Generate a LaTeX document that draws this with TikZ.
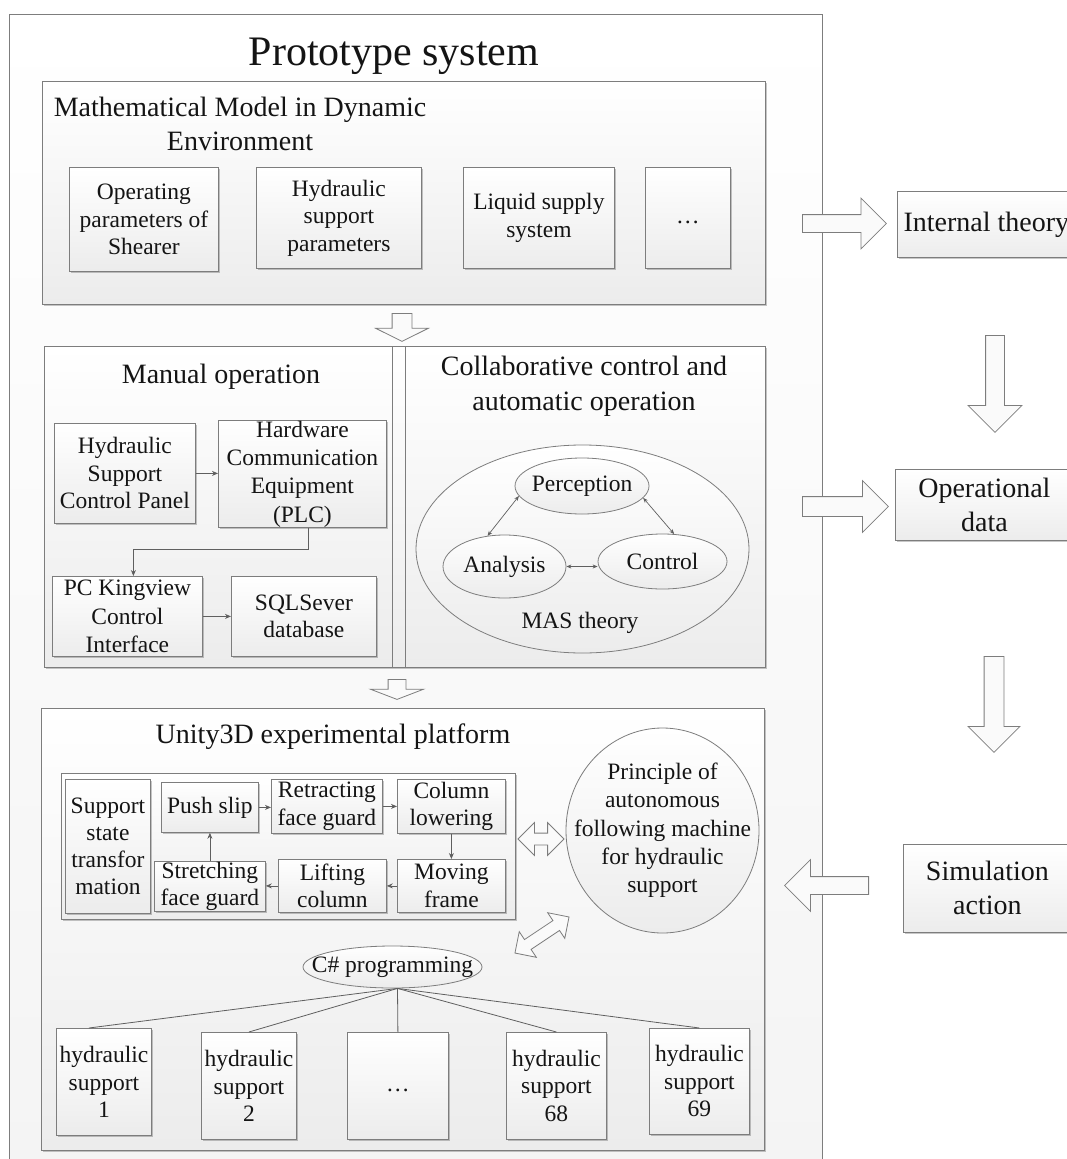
\documentclass[tikz,border=0pt]{standalone}
\usepackage{fontspec}
\setmainfont{Liberation Serif}
\usetikzlibrary{shapes.geometric,shapes.arrows,shadows,arrows.meta,calc}

\definecolor{boxedge}{RGB}{125,125,125}
\definecolor{panelbot}{RGB}{236,236,236}
\definecolor{outerbot}{RGB}{244,244,244}
\definecolor{arrowfill}{RGB}{250,250,250}
\definecolor{lnk}{RGB}{95,95,95}
\definecolor{ink}{RGB}{20,20,20}

\newcommand\titlesize{\fontsize{42}{48}\selectfont}
\newcommand\headsize{\fontsize{28}{34}\selectfont}
\newcommand\headsizeb{\fontsize{28}{35}\selectfont}
\newcommand\bodysize{\fontsize{23.5}{27.5}\selectfont}
\newcommand\bodysizeb{\fontsize{23.5}{28.3}\selectfont}

\tikzset{
  softshadow/.style={drop shadow={shadow xshift=1.6pt,shadow yshift=-1.6pt,fill=black,opacity=0.22}},
  panel/.style={draw=boxedge, line width=0.8pt, top color=white, bottom color=panelbot,
    softshadow, inner sep=0pt, anchor=north west},
  stepbox/.style={panel, align=center, font=\bodysize, text=ink},
  oval/.style={ellipse, draw=boxedge, line width=0.8pt, top color=white, bottom color=panelbot,
    inner sep=0pt},
  ovaltext/.style={label={[align=center, font=\bodysize, text=ink]center:#1}},
  heading/.style={font=\headsize, text=ink, align=center, inner sep=0pt},
  conn/.style={draw=lnk, line width=0.8pt, -{Stealth[length=6pt,width=5pt]}},
  biconn/.style={draw=lnk, line width=0.7pt,
    {Stealth[length=5pt,width=4pt]}-{Stealth[length=5pt,width=4pt]}},
  fan/.style={draw=lnk, line width=0.8pt},
  blockarrow/.style n args={4}{single arrow, draw=boxedge, line width=0.8pt, fill=arrowfill,
    inner sep=0pt, minimum width=0pt, minimum height=#1, text height=#2, text depth=0pt,
    single arrow head extend=#3, single arrow tip angle=#4, anchor=tail},
  dblarrow/.style n args={3}{double arrow, draw=boxedge, line width=0.8pt, fill=arrowfill,
    inner sep=0pt, minimum width=0pt, minimum height=#1, text height=#2, text depth=0pt,
    double arrow head extend=#3},
}

\begin{document}
\begin{tikzpicture}[x=1pt,y=-1pt]
\useasboundingbox (0,0) rectangle (1067,1159);

% outer frame of the prototype system
\node[draw=boxedge, line width=0.8pt, top color=white, bottom color=outerbot,
  inner sep=0pt, anchor=north west, minimum width=813, minimum height=1160] (proto) at (9,14) {};
\node[font=\titlesize, text=ink, anchor=base, inner sep=0pt] (protoTitle) at (394,65) {Prototype system};

% ---- mathematical model ----
\node[panel, minimum width=723, minimum height=223] (math) at (42,81) {};
\node[heading] (mathTitle) at (240,124.3) {Mathematical Model in Dynamic\\Environment};
\node[stepbox, minimum width=149, minimum height=104] (op) at (69,167) {Operating\\parameters of\\Shearer};
\node[stepbox, minimum width=165, minimum height=101] (hsp) at (256,167) {Hydraulic\\support\\parameters};
\node[stepbox, minimum width=151, minimum height=101] (liq) at (463,167) {Liquid supply\\system};
\node[stepbox, minimum width=85, minimum height=101] (more1) at (645,167) {\strut…};

% ---- manual operation ----
\node[panel, minimum width=348, minimum height=321] (manual) at (44,346) {};
\node[panel, minimum width=13, minimum height=321] (bar) at (392,346) {};
\node[panel, minimum width=360, minimum height=321] (collab) at (405,346) {};
\node[heading, anchor=base] (manualTitle) at (221,383) {Manual operation};
\node[stepbox, minimum width=141, minimum height=100] (hscp) at (54,423) {Hydraulic\\Support\\Control Panel};
\node[stepbox, font=\bodysizeb, minimum width=168, minimum height=107] (hw) at (218,420) {Hardware\\Communication\\Equipment\\(PLC)};
\node[stepbox, font=\bodysizeb, minimum width=150, minimum height=80] (pc) at (52,576) {PC Kingview\\Control\\Interface};
\node[stepbox, minimum width=145, minimum height=80] (sql) at (231,576) {SQLSever\\database};
\draw[conn] (hscp.east) -- (hw.west |- hscp.east);
\draw[conn] ([xshift=6pt]hw.south) -- ++(0,22) -| ([xshift=6pt]pc.north);
\draw[conn] (pc.east) -- (sql.west);

% ---- collaborative control ----
\node[heading, font=\headsizeb] (collabTitle) at (584,386) {Collaborative control and\\automatic operation};
\node[oval, minimum width=333, minimum height=208] (mas) at (582.5,549) {};
\node[oval, minimum width=134, minimum height=56, ovaltext={Perception}] (perc) at (582,486) {};
\node[oval, minimum width=123, minimum height=63, ovaltext={Analysis}] (ana) at (504.5,566.5) {};
\node[oval, minimum width=129, minimum height=55, ovaltext={Control}] (ctl) at (662.5,561.5) {};
\node[font=\bodysize, text=ink, anchor=base, inner sep=0pt] (masLabel) at (580,628) {MAS theory};
\draw[biconn] (perc.189) -- (ana.119);
\draw[biconn] (perc.349) -- (ctl.67);
\draw[biconn] (ana.east) -- (ana.east -| ctl.west);

% ---- Unity3D platform ----
\node[panel, minimum width=723, minimum height=442] (unity) at (41,708) {};
\node[heading, anchor=base] (unityTitle) at (333,743) {Unity3D experimental platform};
\node[panel, minimum width=454, minimum height=146] (cycle) at (61,773) {};
\node[stepbox, font=\fontsize{23.5}{27}\selectfont, minimum width=85, minimum height=134] (sst) at (65,779) {Support\\state\\transfor\\mation};
\node[stepbox, minimum width=97, minimum height=50] (push) at (161,782) {Push slip};
\node[stepbox, minimum width=111, minimum height=54] (retr) at (271,779) {Retracting\\face guard};
\node[stepbox, minimum width=108, minimum height=54] (coll) at (397,779) {Column\\lowering};
\node[stepbox, minimum width=108, minimum height=53] (movf) at (397,859) {Moving\\frame};
\node[stepbox, minimum width=108, minimum height=53] (lift) at (278,859) {Lifting\\column};
\node[stepbox, minimum width=111, minimum height=50] (stre) at (154,861) {Stretching\\face guard};
\draw[conn] (push.east) -- (retr.west |- push.east);
\draw[conn] (retr.east) -- (coll.west);
\draw[conn] (coll.south) -- (movf.north);
\draw[conn] (movf.west) -- (lift.east);
\draw[conn] (lift.west) -- (stre.east |- lift.west);
\draw[conn] (stre.north) -- (push.south);

\node[oval, minimum width=193, minimum height=205,
  label={[align=center, font=\bodysizeb, text=ink]center:Principle of\\autonomous\\following machine\\for hydraulic\\support}] (principle) at (662.5,830.5) {};
\node[dblarrow={46}{11}{10.5}] (linkH) at (541,839) {};
\node[dblarrow={65}{11}{9.5}, rotate=33.7] (linkD) at (542,935) {};

\node[oval, minimum width=179, minimum height=42, ovaltext={C\# programming}] (cs) at (392.5,967) {};
\node[stepbox, minimum width=95, minimum height=107] (hs1) at (56,1028) {hydraulic\\support\\1};
\node[stepbox, minimum width=95, minimum height=107] (hs2) at (201,1032) {hydraulic\\support\\2};
\node[stepbox, minimum width=101, minimum height=107] (hsd) at (347,1032) {\strut…};
\node[stepbox, minimum width=100, minimum height=107] (hs68) at (506,1032) {hydraulic\\support\\68};
\node[stepbox, minimum width=100, minimum height=106] (hs69) at (649,1028) {hydraulic\\support\\69};
\coordinate (fork) at ([xshift=5pt]cs.south);
\draw[fan] (fork) -- ([xshift=-15pt]hs1.north);
\draw[fan] (fork) -- (hs2.north);
\draw[fan] (fork) -- (hsd.north);
\draw[fan] (fork) -- (hs68.north);
\draw[fan] (fork) -- (hs69.north);

% ---- flow between stages ----
\node[blockarrow={28}{19}{16.5}{127}, rotate=-90] (stepA) at (402,313) {};
\node[blockarrow={20}{17}{17.5}{138}, rotate=-90] (stepB) at (397,679) {};

% ---- outcome column ----
\node[panel, font=\headsize, text=ink, minimum width=178, minimum height=66] (theory) at (897,191) {Internal theory};
\node[panel, font=\headsize, text=ink, align=center, minimum width=178, minimum height=71] (data) at (895,469) {Operational\\data};
\node[panel, font=\headsize, text=ink, align=center, minimum width=168, minimum height=88] (sim) at (903,844) {Simulation\\action};
\node[blockarrow={84}{17}{16.5}{90}] (toTheory) at (802,223.5) {};
\node[blockarrow={86}{19}{16}{90}] (toData) at (802,506.5) {};
\node[blockarrow={84}{17}{17}{90}, rotate=180] (fromSim) at (869,885.5) {};
\node[blockarrow={97}{18}{17.5}{90}, rotate=-90] (flowA) at (995,335) {};
\node[blockarrow={96}{19}{16}{90}, rotate=-90] (flowB) at (994,656) {};
\end{tikzpicture}
\end{document}
